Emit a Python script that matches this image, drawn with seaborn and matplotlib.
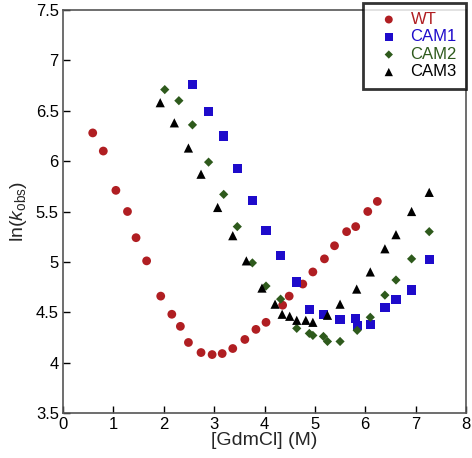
import numpy as np
import pandas as pd
import matplotlib
matplotlib.use("Agg")
import matplotlib.pyplot as plt
import seaborn as sns

wt_x = [0.59, 0.80, 1.05, 1.28, 1.45, 1.66, 1.94, 2.16, 2.33, 2.49, 2.74, 2.96, 3.16, 3.37,
        3.61, 3.83, 4.03, 4.36, 4.49, 4.76, 4.96, 5.19, 5.39, 5.63, 5.81, 6.05, 6.24]
wt_y = [6.28, 6.10, 5.71, 5.50, 5.24, 5.01, 4.66, 4.48, 4.36, 4.20, 4.10, 4.08, 4.09, 4.14,
        4.23, 4.33, 4.40, 4.57, 4.66, 4.78, 4.90, 5.03, 5.16, 5.30, 5.35, 5.50, 5.60]

cam1_x = [2.57, 2.89, 3.19, 3.46, 3.76, 4.03, 4.32, 4.64, 4.89, 5.17, 5.50, 5.80, 5.84, 6.10,
          6.39, 6.61, 6.92, 7.27]
cam1_y = [6.76, 6.49, 6.25, 5.93, 5.61, 5.31, 5.06, 4.80, 4.53, 4.48, 4.43, 4.44, 4.37, 4.38,
          4.55, 4.63, 4.72, 5.02]

cam2_x = [2.02, 2.30, 2.57, 2.89, 3.19, 3.46, 3.76, 4.03, 4.32, 4.64, 4.89, 4.96, 5.17, 5.25,
          5.50, 5.84, 6.10, 6.39, 6.61, 6.92, 7.27]
cam2_y = [6.71, 6.60, 6.36, 5.99, 5.67, 5.35, 4.99, 4.76, 4.63, 4.34, 4.29, 4.27, 4.26, 4.21,
          4.21, 4.32, 4.45, 4.67, 4.82, 5.03, 5.30]

cam3_x = [1.93, 2.21, 2.49, 2.74, 3.07, 3.37, 3.64, 3.95, 4.21, 4.35, 4.50, 4.64, 4.82, 4.96,
          5.25, 5.50, 5.83, 6.10, 6.39, 6.61, 6.92, 7.27]
cam3_y = [6.58, 6.38, 6.13, 5.87, 5.54, 5.26, 5.01, 4.74, 4.58, 4.48, 4.46, 4.42, 4.42, 4.40,
          4.47, 4.58, 4.73, 4.90, 5.13, 5.27, 5.50, 5.69]

series_names = ["WT", "CAM1", "CAM2", "CAM3"]
xticks = [0, 1, 2, 3, 4, 5, 6, 7, 8]
yticks = [3.5, 4, 4.5, 5, 5.5, 6, 6.5, 7, 7.5]
ytick_labels = ["3.5", "4", "4.5", "5", "5.5", "6", "6.5", "7", "7.5"]

frames = []
for name, xs, ys in zip(series_names, [wt_x, cam1_x, cam2_x, cam3_x], [wt_y, cam1_y, cam2_y, cam3_y]):
    frames.append(pd.DataFrame({"x": xs, "y": ys, "series": name}))
df = pd.concat(frames, ignore_index=True)

sns.set_style("white")
plt.rcParams["font.family"] = ["Liberation Sans", "DejaVu Sans"]
plt.rcParams["mathtext.fontset"] = "custom"
plt.rcParams["mathtext.rm"] = "Liberation Sans"
plt.rcParams["mathtext.it"] = "Liberation Sans:italic"

colors = {"WT": "#B01E22", "CAM1": "#1E0BCB", "CAM2": "#2E5A1C", "CAM3": "#000000"}
markers = {"WT": "o", "CAM1": "s", "CAM2": "D", "CAM3": "^"}
sizes = {"WT": 40, "CAM1": 44, "CAM2": 22, "CAM3": 44}

fig = plt.figure(figsize=(4.72, 4.58), dpi=100)
ax = fig.add_axes([63 / 472, 1 - 413 / 458, (466 - 63) / 472, (413 - 10) / 458])

for name in series_names:
    sub = df[df["series"] == name]
    sns.scatterplot(data=sub, x="x", y="y", ax=ax, color=colors[name], marker=markers[name],
                    s=sizes[name], edgecolor="none", linewidth=0, label=name, zorder=3)

ax.set_xlim(0, 8)
ax.set_ylim(3.5, 7.5)
ax.set_xticks(xticks)
ax.set_xticklabels([str(t) for t in xticks])
ax.set_yticks(yticks)
ax.set_yticklabels(ytick_labels)
ax.tick_params(axis="both", direction="in", length=5, width=1, labelsize=12, colors="#000000",
               left=True, bottom=True, top=False, right=False, pad=3)
for sp in ax.spines.values():
    sp.set_color("#555555")
    sp.set_linewidth(1.2)
ax.set_xlabel("[GdmCl] (M)", fontsize=14, labelpad=0)
ax.set_ylabel(r"ln($k_{\mathrm{obs}}$)", fontsize=14, labelpad=5)

leg = ax.legend(loc="upper right", bbox_to_anchor=(1.0, 1.018), frameon=True, fancybox=False,
                fontsize=12, handletextpad=0.3, borderpad=0.55, labelspacing=0.15,
                borderaxespad=0, markerscale=0.9, handlelength=2.0)
leg.get_frame().set_edgecolor("#000000")
leg.get_frame().set_linewidth(2)
leg.set_zorder(5)
for txt, name in zip(leg.get_texts(), series_names):
    txt.set_color(colors[name])

fig.savefig("out.png", dpi=100)
